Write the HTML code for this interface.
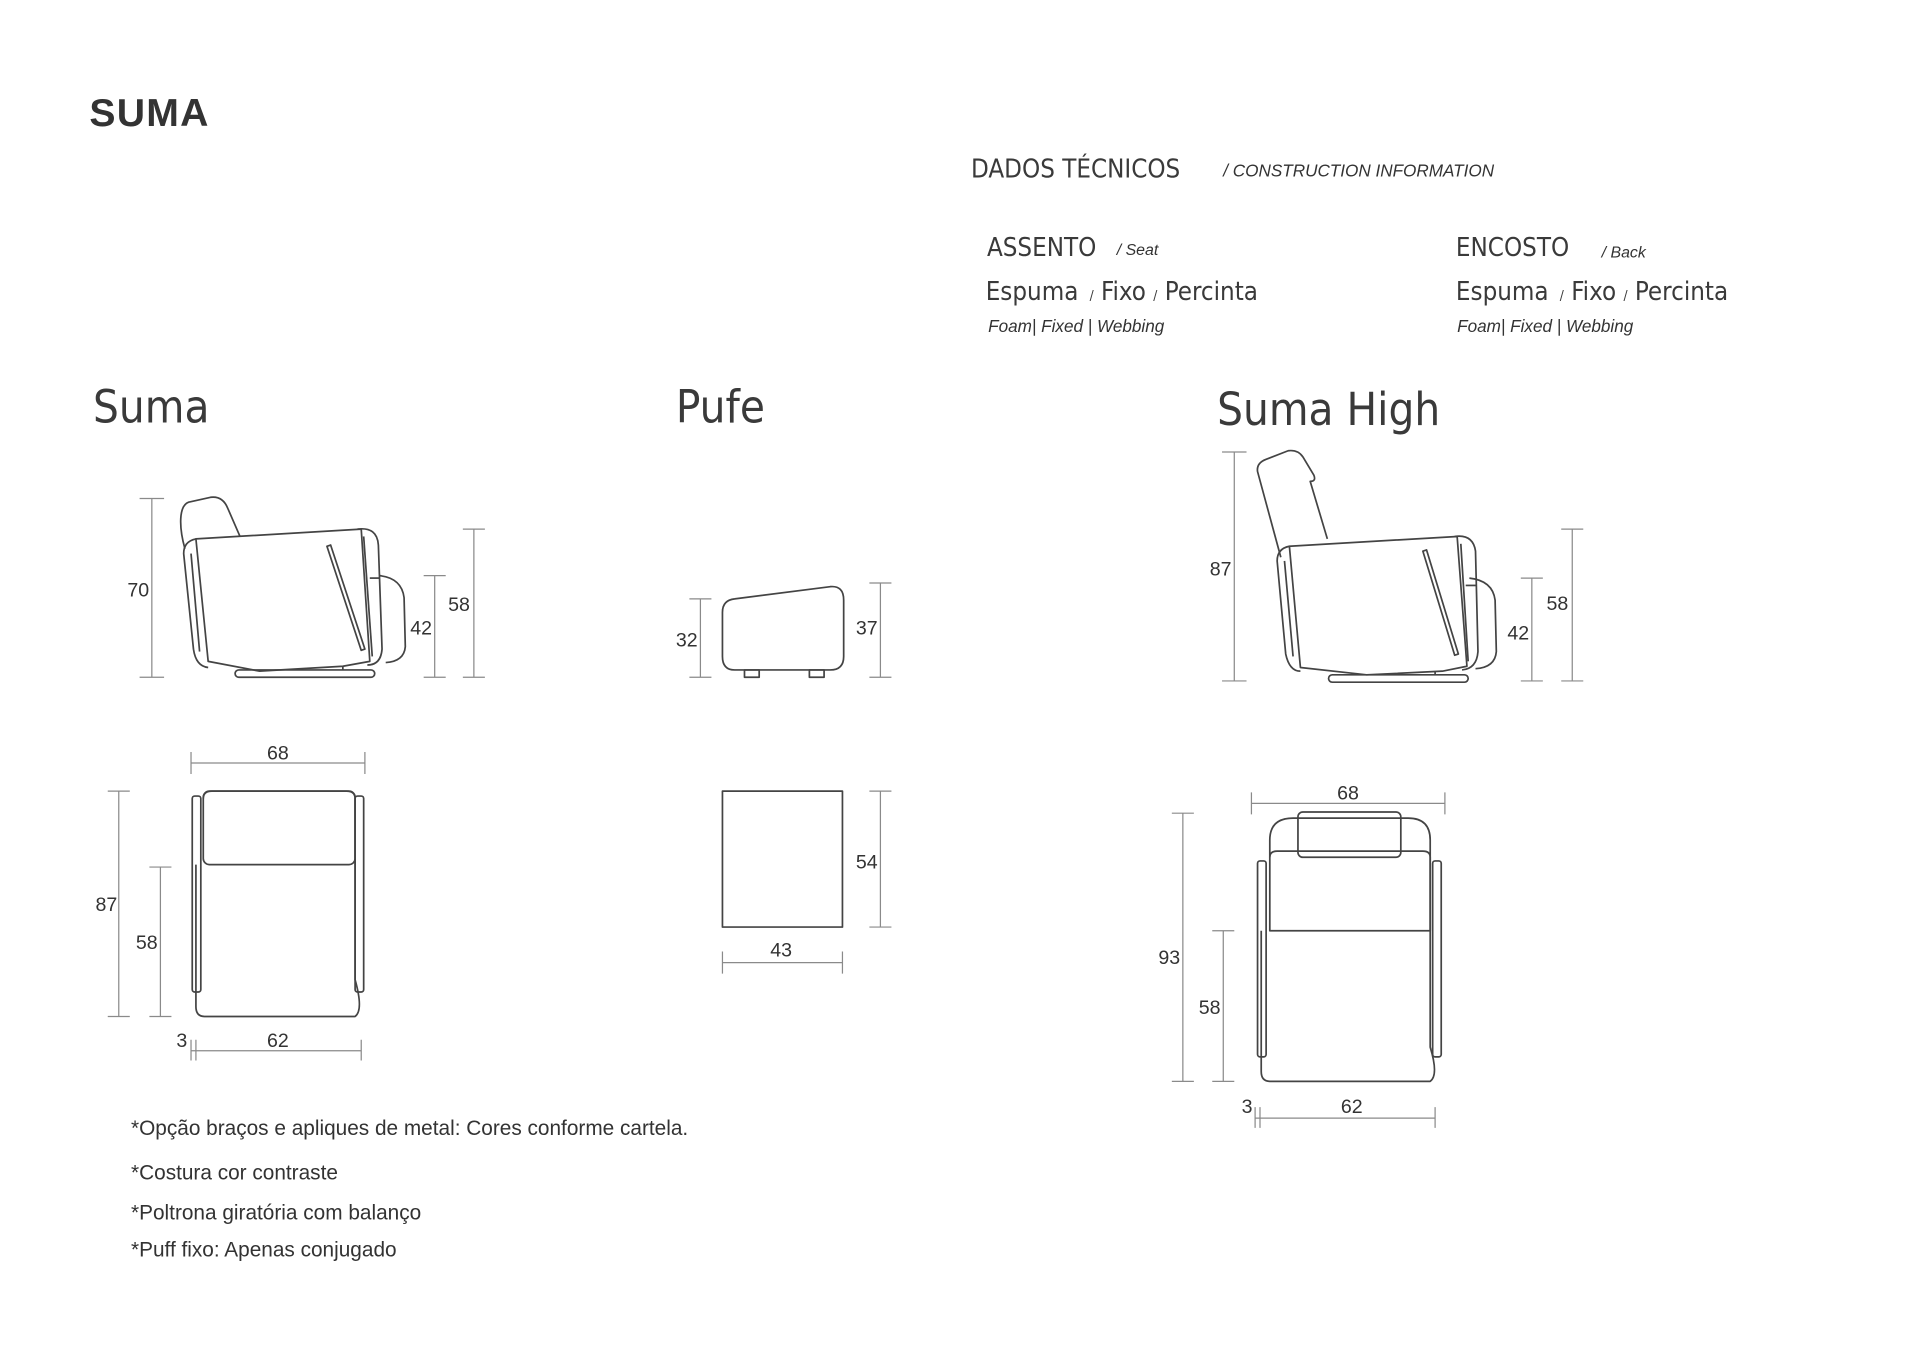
<!DOCTYPE html>
<html><head><meta charset="utf-8"><style>
html,body{margin:0;padding:0;background:#fff;}
svg{display:block}
text{font-family:"Liberation Sans",sans-serif;fill:#333}
.t{font-family:"DejaVu Sans Condensed","Liberation Sans",sans-serif;fill:#3a3a3a}
.d{font-size:16px;fill:#333}
.dim{stroke:#8a8a8a;stroke-width:1;fill:none}
.f{stroke:#444;stroke-width:1.4;fill:none;stroke-linejoin:round}
</style></head><body>
<svg width="1920" height="1357" viewBox="0 0 1568 1108" xmlns="http://www.w3.org/2000/svg">
<rect width="1568" height="1108" fill="#fff"/>
<text x="73" y="103" style="font-size:32px;font-weight:bold;letter-spacing:1px" fill="#222">SUMA</text>
<text class="t" x="793" y="145" style="font-size:21px">DADOS TÉCNICOS</text>
<text x="999" y="144" style="font-size:14px;font-style:italic">/ CONSTRUCTION INFORMATION</text>
<text class="t" x="806" y="209" style="font-size:21px">ASSENTO</text>
<text x="912" y="208" style="font-size:13px;font-style:italic">/ Seat</text>
<text class="t" x="805" y="245" style="font-size:21px">Espuma <tspan style="font-size:11px">&#160;/</tspan> Fixo <tspan style="font-size:11px">/</tspan> Percinta</text>
<text x="807" y="271" style="font-size:14px;font-style:italic">Foam| Fixed | Webbing</text>
<text class="t" x="1189" y="209" style="font-size:21px">ENCOSTO</text>
<text x="1308" y="210" style="font-size:13px;font-style:italic">/ Back</text>
<text class="t" x="1189" y="245" style="font-size:21px">Espuma <tspan style="font-size:11px">&#160;/</tspan> Fixo <tspan style="font-size:11px">/</tspan> Percinta</text>
<text x="1190" y="271" style="font-size:14px;font-style:italic">Foam| Fixed | Webbing</text>

<text class="t" x="76" y="345" style="font-size:37px">Suma</text>
<text class="t" x="552" y="345" style="font-size:37px">Pufe</text>
<text class="t" x="994" y="347" style="font-size:37px">Suma High</text>

<!-- Suma side -->
<g>
<path class="dim" d="M114 407H134M124 407V553M114 553H134M346 470H364M355 470V553M346 553H364M378 432H396M387 432V553M378 553H396"/>
<text class="d" x="104" y="487">70</text><text class="d" x="335" y="518">42</text><text class="d" x="366" y="499">58</text>
<path class="f" d="M151 448C146 430 146 413 154 410L172 406C180 405 184 410 186 415L196 438"/>
<path class="f" d="M160 440L295 432L302 540L280 544L212 548L170 540Z"/>
<path class="f" d="M160 440Q150 442 150 452L158 530Q160 544 170 545"/><path class="f" d="M156 452L163 532"/>
<path class="f" d="M292 432Q308 430 309 445L312 530Q311 543 300 543"/><path class="f" d="M297 438L304 536"/>
<path class="f" d="M310 470Q328 472 330 488L331 528Q330 540 315 541"/><path class="f" d="M302 472H310"/>
<path class="f" d="M267 446L270 445L298 530L295 531Z"/>
<rect class="f" x="192" y="547" width="114" height="6" rx="3"/><path class="f" d="M280 544V547"/>
</g>

<!-- Suma top -->
<g>
<path class="dim" d="M156 614V632M156 623H298M298 614V632M88 646H106M97 646V830M88 830H106M122 708H140M131 708V830M122 830H140M156 849V866M160 849V866M156 858H295M295 849V866"/>
<text class="d" x="218" y="620">68</text><text class="d" x="78" y="744">87</text><text class="d" x="111" y="775">58</text><text class="d" x="144" y="855">3</text><text class="d" x="218" y="855">62</text>
<path class="f" d="M166 652Q166 646 173 646H283Q290 646 290 652V800Q297 825 290 830H167Q160 830 160 822V706"/>
<rect class="f" x="166" y="646" width="124" height="60" rx="5"/>
<rect class="f" x="157" y="650" width="7" height="160" rx="2"/><rect class="f" x="290" y="650" width="7" height="160" rx="2"/>
</g>

<!-- Pufe -->
<g>
<path class="dim" d="M563 489H581M572 489V553M563 553H581M710 476H728M719 476V553M710 553H728M710 646H728M719 646V757M710 757H728M590 777V795M590 786H688M688 777V795"/>
<text class="d" x="552" y="528">32</text><text class="d" x="699" y="518">37</text><text class="d" x="699" y="709">54</text><text class="d" x="629" y="781">43</text>
<path class="f" d="M600 489L678 479Q689 478 689 490V536Q689 547 678 547H600Q590 547 590 536V500Q590 490 600 489Z"/>
<rect class="f" x="608" y="547" width="12" height="6"/><rect class="f" x="661" y="547" width="12" height="6"/>
<rect class="f" x="590" y="646" width="98" height="111"/>
</g>

<!-- Suma High side -->
<g>
<path class="dim" d="M998 369H1018M1008 369V556M998 556H1018M1242 472H1260M1251 472V556M1242 556H1260M1275 432H1293M1284 432V556M1275 556H1293"/>
<text class="d" x="988" y="470">87</text><text class="d" x="1231" y="522">42</text><text class="d" x="1263" y="498">58</text>
<path class="f" d="M1046 455L1027 385Q1026 378 1034 375L1052 368Q1060 367 1064 373L1073 388Q1075 393 1070 393L1084 440"/>
<path class="f" d="M1053 446L1190 438L1198 544L1178 548L1116 551L1062 545Z"/>
<path class="f" d="M1053 446Q1043 448 1043 458L1050 534Q1053 548 1062 548"/><path class="f" d="M1049 458L1056 536"/>
<path class="f" d="M1188 438Q1203 436 1205 450L1207 532Q1206 546 1194 547"/><path class="f" d="M1193 444L1199 540"/>
<path class="f" d="M1200 472Q1219 474 1221 490L1222 532Q1221 545 1205 546"/><path class="f" d="M1197 478H1205"/>
<path class="f" d="M1162 450L1165 449L1191 534L1188 535Z"/>
<rect class="f" x="1085" y="551" width="114" height="6" rx="3"/><path class="f" d="M1172 548V551"/>
</g>

<!-- Suma High top -->
<g>
<path class="dim" d="M1022 647V665M1022 656H1180M1180 647V665M957 664H975M966 664V883M957 883H975M990 760H1008M999 760V883M990 883H1008M1025 904V921M1029 904V921M1025 913H1172M1172 904V921"/>
<text class="d" x="1092" y="653">68</text><text class="d" x="946" y="787">93</text><text class="d" x="979" y="828">58</text><text class="d" x="1014" y="909">3</text><text class="d" x="1095" y="909">62</text>
<path class="f" d="M1037 700V686Q1037 668 1056 668H1150Q1168 668 1168 686V855Q1175 878 1168 883H1037Q1030 883 1030 875V760"/>
<path class="f" d="M1037 700Q1037 695 1043 695H1162Q1168 695 1168 700V760H1037Z"/>
<rect class="f" x="1060" y="663" width="84" height="37" rx="4"/>
<rect class="f" x="1027" y="703" width="7" height="160" rx="2"/><rect class="f" x="1170" y="703" width="7" height="160" rx="2"/>
</g>

<g style="font-size:17px">
<text x="107" y="927">*Opção braços e apliques de metal: Cores conforme cartela.</text>
<text x="107" y="963">*Costura cor contraste</text>
<text x="107" y="996">*Poltrona giratória com balanço</text>
<text x="107" y="1026">*Puff fixo: Apenas conjugado</text>
</g>
</svg>
</body></html>
